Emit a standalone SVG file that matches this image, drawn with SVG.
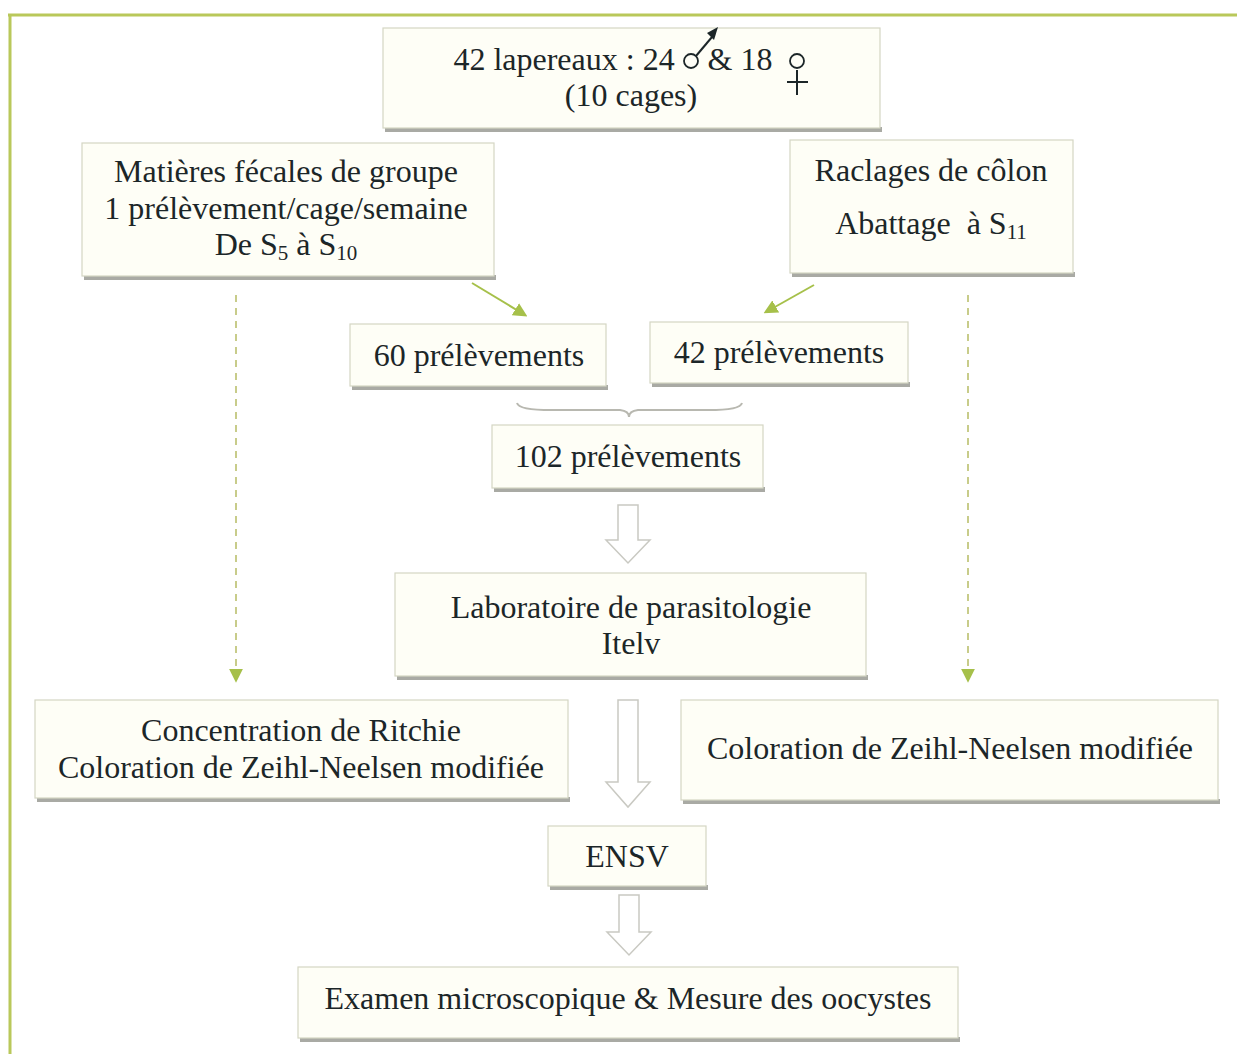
<svg xmlns="http://www.w3.org/2000/svg" width="1237" height="1054" viewBox="0 0 1237 1054">
<defs>
<style>
.box{fill:#fefef6;stroke:#d4d6c4;stroke-width:1.2}
.sh{fill:#a9aaa4}
.t{font-family:'Liberation Serif',Tinos,'Times New Roman',Times,serif;font-size:32px;fill:#1c2628;text-anchor:middle}
.frame{stroke:#b9c85a;stroke-width:3;fill:none}
.dash{stroke:#c8cc8a;stroke-width:2;stroke-dasharray:7 6;fill:none}
.green{stroke:#a6c04a;stroke-width:2;fill:none}
.block{fill:#ffffff;stroke:#c9c9c2;stroke-width:1.5}
</style>
<marker id="ga" viewBox="0 0 10 10" refX="8" refY="5" markerWidth="7" markerHeight="7" orient="auto">
<path d="M0,0 L10,5 L0,10 z" fill="#a6c04a"/>
</marker>
</defs>
<rect width="1237" height="1054" fill="#ffffff"/>
<path class="frame" d="M8,15 H1237 M10,15 V1054"/>

<g id="connectors">
<line class="green" x1="472" y1="283" x2="525" y2="315" marker-end="url(#ga)"/>
<line class="green" x1="814" y1="285" x2="766" y2="312" marker-end="url(#ga)"/>
<line class="dash" x1="236" y1="295" x2="236" y2="680" marker-end="url(#ga)"/>
<line class="dash" x1="968" y1="295" x2="968" y2="680" marker-end="url(#ga)"/>
<path d="M517,403 Q519,411 560,410 L620,410 Q629,411 629,417 Q629,411 638,410 L700,410 Q740,411 742,403" fill="none" stroke="#b8b8b0" stroke-width="2"/>
<path class="block" d="M618,505 H638 V540 H650 L628,563 L606,540 H618 Z"/>
<path class="block" d="M618,700 H638 V782 H650 L628,807 L606,782 H618 Z"/>
<path class="block" d="M619,895 H639 V932 H651 L629,955 L607,932 H619 Z"/>
</g>

<g id="n-lapereaux">
<rect class="sh" x="385" y="127" width="497" height="5"/>
<rect class="box" x="383" y="28" width="497" height="100"/>
<text class="t" x="564" y="70">42 lapereaux : 24</text>
<text class="t" x="740" y="70">&amp; 18</text>
<circle cx="691" cy="61" r="7" fill="none" stroke="#1c2628" stroke-width="1.8"/>
<line x1="696" y1="56" x2="712" y2="37" stroke="#1c2628" stroke-width="2"/>
<path d="M718,27 L707,33 L714,40 Z" fill="#1c2628"/>
<circle cx="797" cy="61" r="7" fill="none" stroke="#1c2628" stroke-width="1.8"/>
<line x1="797" y1="70" x2="797" y2="95" stroke="#1c2628" stroke-width="2"/>
<line x1="787" y1="82" x2="808" y2="82" stroke="#1c2628" stroke-width="2"/>
<text class="t" x="631" y="106">(10 cages)</text>
</g>

<g id="n-matieres">
<rect class="sh" x="84" y="275" width="412" height="5"/>
<rect class="box" x="82" y="143" width="412" height="133"/>
<text class="t" x="286" y="182">Matières fécales de groupe</text>
<text class="t" x="286" y="219">1 prélèvement/cage/semaine</text>
<text class="t" x="286" y="255">De S<tspan font-size="21" dy="5">5</tspan><tspan dy="-5"> à S</tspan><tspan font-size="21" dy="5">10</tspan></text>
</g>

<g id="n-raclages">
<rect class="sh" x="792" y="272" width="283" height="5"/>
<rect class="box" x="790" y="140" width="283" height="133"/>
<text class="t" x="931" y="181">Raclages de côlon</text>
<text class="t" x="931" y="234" xml:space="preserve">Abattage  à S<tspan font-size="21" dy="5">11</tspan></text>
</g>

<g id="n-60">
<rect class="sh" x="352" y="385" width="256" height="5"/>
<rect class="box" x="350" y="324" width="256" height="62"/>
<text class="t" x="479" y="366">60 prélèvements</text>
</g>

<g id="n-42">
<rect class="sh" x="652" y="382" width="258" height="5"/>
<rect class="box" x="650" y="322" width="258" height="61"/>
<text class="t" x="779" y="363">42 prélèvements</text>
</g>

<g id="n-102">
<rect class="sh" x="494" y="487" width="271" height="5"/>
<rect class="box" x="492" y="425" width="271" height="63"/>
<text class="t" x="628" y="467">102 prélèvements</text>
</g>

<g id="n-labo">
<rect class="sh" x="397" y="675" width="471" height="5"/>
<rect class="box" x="395" y="573" width="471" height="103"/>
<text class="t" x="631" y="618">Laboratoire de parasitologie</text>
<text class="t" x="631" y="654">Itelv</text>
</g>

<g id="n-ritchie">
<rect class="sh" x="37" y="797" width="533" height="5"/>
<rect class="box" x="35" y="700" width="533" height="98"/>
<text class="t" x="301" y="741">Concentration de Ritchie</text>
<text class="t" x="301" y="778">Coloration de Zeihl-Neelsen modifiée</text>
</g>

<g id="n-zeihl">
<rect class="sh" x="683" y="799" width="537" height="5"/>
<rect class="box" x="681" y="700" width="537" height="100"/>
<text class="t" x="950" y="759">Coloration de Zeihl-Neelsen modifiée</text>
</g>

<g id="n-ensv">
<rect class="sh" x="550" y="885" width="158" height="5"/>
<rect class="box" x="548" y="826" width="158" height="60"/>
<text class="t" x="627" y="867">ENSV</text>
</g>

<g id="n-examen">
<rect class="sh" x="300" y="1037" width="660" height="5"/>
<rect class="box" x="298" y="967" width="660" height="71"/>
<text class="t" x="628" y="1009">Examen microscopique &amp; Mesure des oocystes</text>
</g>
</svg>
